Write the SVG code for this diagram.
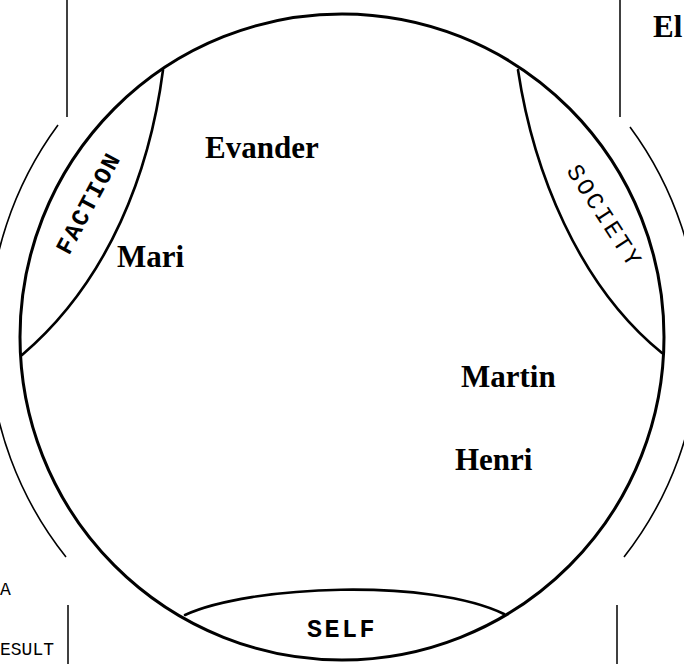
<svg xmlns="http://www.w3.org/2000/svg" width="684" height="664" viewBox="0 0 684 664">
<style>
.bg{fill:#fff}
.main{fill:none;stroke:#000;stroke-width:3}
.lens{fill:none;stroke:#000;stroke-width:2.6;stroke-linecap:round}
.outer{fill:none;stroke:#000;stroke-width:1.6}
.rule{stroke:#000;stroke-width:1.5}
.name{font-family:"Liberation Serif",serif;font-weight:bold;font-size:31px;fill:#000}
.tag{font-family:"Liberation Mono","Courier New",monospace;fill:#000}
.edge{font-family:"Liberation Mono","Courier New",monospace;font-size:18px;fill:#000}
</style>
<rect class="bg" x="0" y="0" width="684" height="664"/>
<g id="frame">
  <line class="rule" x1="67" y1="0" x2="67" y2="117"/>
  <line class="rule" x1="620" y1="0" x2="620" y2="117"/>
  <line class="rule" x1="68" y1="605" x2="68" y2="664"/>
  <line class="rule" x1="617" y1="605" x2="617" y2="664"/>
  <path class="outer" d="M58,125 A355,355 0 0 0 66,557"/>
  <path class="outer" d="M630,127 A355,355 0 0 1 624,557"/>
  <text class="edge" x="0" y="595">A</text>
  <text class="edge" x="0" y="655">ESULT</text>
  <text class="name" x="653" y="37">El</text>
</g>
<g id="circle">
  <ellipse class="main" cx="342" cy="337" rx="322" ry="323"/>
</g>
<g id="faction">
  <path class="lens" d="M163,70 C150,170 110,280 22,355"/>
  <text class="tag" font-size="24" font-weight="bold" letter-spacing="1.5" text-anchor="middle" transform="translate(88,203) rotate(-62)" y="8">FACTION</text>
</g>
<g id="society">
  <path class="lens" d="M518,70 C533,170 578,285 662,353"/>
  <text class="tag" font-size="24" letter-spacing="2.5" text-anchor="middle" transform="translate(605,216) rotate(57)" y="8">SOCIETY</text>
</g>
<g id="self">
  <path class="lens" d="M185,615 C250,585 430,578 504,614"/>
  <text class="tag" font-size="25" font-weight="bold" letter-spacing="2.5" text-anchor="middle" x="342" y="637">SELF</text>
</g>
<g id="evander"><text class="name" x="205" y="158">Evander</text></g>
<g id="mari"><text class="name" x="117" y="267">Mari</text></g>
<g id="martin"><text class="name" x="461" y="387">Martin</text></g>
<g id="henri"><text class="name" x="455" y="470">Henri</text></g>
<g id="connectors"></g>
</svg>
